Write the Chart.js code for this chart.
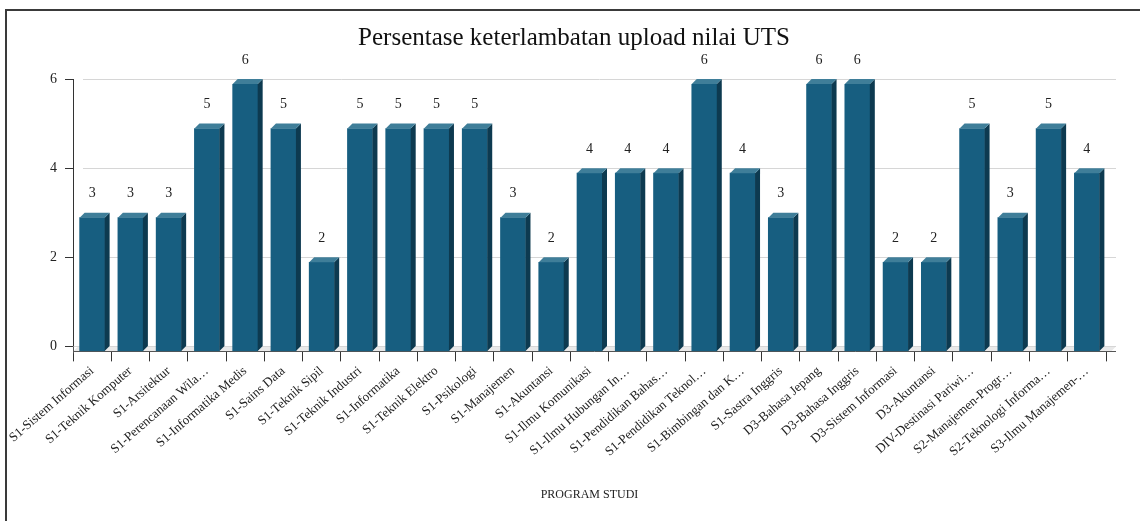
<!DOCTYPE html>
<html>
<head>
<meta charset="utf-8">
<script src="https://cdn.jsdelivr.net/npm/chart.js@4.4.0/dist/chart.umd.min.js"></script>
<style>
  body { margin: 0; background: #fff; }
  #wrap { position: relative; width: 1140px; height: 521px; }
</style>
</head>
<body>
<div id="wrap"><canvas id="lateChart"></canvas></div>
<script>
// program studi (truncated the same way the original chart does)
const PRODI = [
    'S1-Sistem Informasi', 'S1-Teknik Komputer', 'S1-Arsitektur', 'S1-Perencanaan Wila…',
    'S1-Informatika Medis', 'S1-Sains Data', 'S1-Teknik Sipil', 'S1-Teknik Industri',
    'S1-Informatika', 'S1-Teknik Elektro', 'S1-Psikologi', 'S1-Manajemen',
    'S1-Akuntansi', 'S1-Ilmu Komunikasi', 'S1-Ilmu Hubungan In…', 'S1-Pendidikan Bahas…',
    'S1-Pendidikan Teknol…', 'S1-Bimbingan dan K…', 'S1-Sastra Inggris', 'D3-Bahasa Jepang',
    'D3-Bahasa Inggris', 'D3-Sistem Informasi', 'D3-Akuntansi', 'DIV-Destinasi Pariwi…',
    'S2-Manajemen-Progr…', 'S2-Teknologi Informa…', 'S3-Ilmu Manajemen-…'
];
const KETERLAMBATAN = [3, 3, 3, 5, 6, 5, 2, 5, 5, 5, 5, 3, 2, 4, 4, 4, 6, 4, 3, 6, 6, 2, 2, 5, 3, 5, 4];
const Y_TICKS = [0, 2, 4, 6];

const SERIF = "'Liberation Serif', 'DejaVu Serif', serif";
const FRONT = '#175e80';
const SIDE = '#0d3a50';
const TOP = '#3f7e99';
const DEPTH = 5; // 3d offset in px

// draws the frame, back wall grid, floor and the 3d faces of the bars
const bar3d = {
    id: 'bar3d',
    beforeDraw(chart) {
        const ctx = chart.ctx;
        ctx.save();
        ctx.strokeStyle = '#3a3a3a';
        ctx.lineWidth = 2;
        ctx.beginPath();
        ctx.moveTo(6, 521);
        ctx.lineTo(6, 10);
        ctx.lineTo(1140, 10);
        ctx.stroke();
        ctx.restore();
    },
    beforeDatasetsDraw(chart) {
        const ctx = chart.ctx;
        const area = chart.chartArea;
        const y = chart.scales.y;
        const y0 = y.getPixelForValue(0);
        ctx.save();
        // floor
        ctx.fillStyle = '#e9e9e9';
        ctx.beginPath();
        ctx.moveTo(area.left, y0 + DEPTH);
        ctx.lineTo(area.right + DEPTH, y0 + DEPTH);
        ctx.lineTo(area.right + 2 * DEPTH, y0);
        ctx.lineTo(area.left + DEPTH, y0);
        ctx.closePath();
        ctx.fill();
        // back wall grid
        ctx.strokeStyle = '#d6d6d6';
        ctx.lineWidth = 1;
        Y_TICKS.forEach(v => {
            const py = Math.round(y.getPixelForValue(v)) + 0.5;
            ctx.beginPath();
            ctx.moveTo(v === 0 ? area.left : area.left + 2 * DEPTH, py);
            ctx.lineTo(area.right + 2 * DEPTH, py);
            ctx.stroke();
        });
        // front floor edge
        ctx.strokeStyle = '#555';
        ctx.beginPath();
        ctx.moveTo(area.left, Math.round(y0 + DEPTH) + 0.5);
        ctx.lineTo(area.right + 2 * DEPTH, Math.round(y0 + DEPTH) + 0.5);
        ctx.moveTo(area.left + 0.5, y0);
        ctx.lineTo(area.left + 0.5, y0 + DEPTH + 2);
        ctx.stroke();
        // front faces are pushed forward (down) by DEPTH
        ctx.translate(0, DEPTH);
    },
    afterDatasetsDraw(chart) {
        const ctx = chart.ctx;
        ctx.restore();
        const meta = chart.getDatasetMeta(0);
        ctx.save();
        meta.data.forEach((bar, i) => {
            const half = bar.width / 2;
            const l = bar.x - half, r = bar.x + half;
            const top = bar.y + DEPTH, base = bar.base + DEPTH;
            // side
            ctx.fillStyle = SIDE;
            ctx.beginPath();
            ctx.moveTo(r, top);
            ctx.lineTo(r + DEPTH, top - DEPTH);
            ctx.lineTo(r + DEPTH, base - DEPTH);
            ctx.lineTo(r, base);
            ctx.closePath();
            ctx.fill();
            // top
            ctx.fillStyle = TOP;
            ctx.beginPath();
            ctx.moveTo(l, top);
            ctx.lineTo(l + DEPTH, top - DEPTH);
            ctx.lineTo(r + DEPTH, top - DEPTH);
            ctx.lineTo(r, top);
            ctx.closePath();
            ctx.fill();
            // value label
            ctx.fillStyle = '#222';
            ctx.font = '14px ' + SERIF;
            ctx.textAlign = 'center';
            ctx.textBaseline = 'middle';
            ctx.fillText(String(KETERLAMBATAN[i]), bar.x, bar.y - 19);
        });
        ctx.restore();
    }
};

const ctx = document.getElementById('lateChart').getContext('2d');
new Chart(ctx, {
    type: 'bar',
    data: {
        labels: PRODI,
        datasets: [{
            label: 'Keterlambatan',
            data: KETERLAMBATAN,
            backgroundColor: FRONT,
            borderWidth: 0,
            barThickness: 25
        }]
    },
    options: {
        responsive: true,
        maintainAspectRatio: false,
        animation: false,
        layout: {
            padding: { left: 42, right: 34, top: 8, bottom: 19 }
        },
        plugins: {
            legend: { display: false },
            tooltip: { enabled: false },
            title: {
                display: true,
                text: 'Persentase keterlambatan upload nilai UTS',
                color: '#111',
                font: { family: SERIF, size: 25, weight: 'normal' },
                padding: { top: 15, bottom: 26 }
            }
        },
        scales: {
            x: {
                afterFit(scale) {
                    // rotated first label may hang outside the plot, like the original
                    scale.paddingLeft = 0;
                },
                grid: { display: true, drawOnChartArea: false, tickLength: 15, color: '#333' },
                border: { display: false },
                ticks: {
                    autoSkip: false,
                    maxRotation: 41,
                    minRotation: 41,
                    color: '#222',
                    padding: 2,
                    font: { family: SERIF, size: 13 }
                },
                title: {
                    display: true,
                    text: 'PROGRAM STUDI',
                    color: '#222',
                    font: { family: SERIF, size: 12 },
                    padding: { top: 26, bottom: 0 }
                }
            },
            y: {
                min: 0,
                max: 6,
                afterBuildTicks(axis) {
                    axis.ticks = Y_TICKS.map(v => ({ value: v }));
                },
                grid: { drawOnChartArea: false, tickLength: 8, color: '#333' },
                border: { display: true, color: '#333', width: 1 },
                ticks: {
                    color: '#222',
                    padding: 8,
                    font: { family: SERIF, size: 14 }
                }
            }
        }
    },
    plugins: [bar3d]
});
</script>
</body>
</html>
